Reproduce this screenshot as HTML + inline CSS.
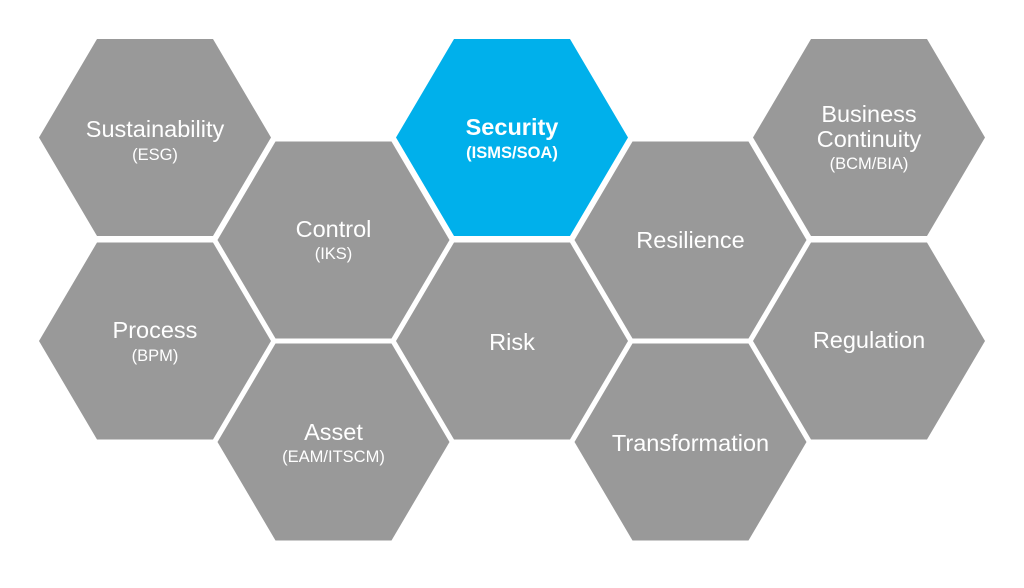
<!DOCTYPE html>
<html><head><style>
body{margin:0;width:1024px;height:583px;background:#fff;overflow:hidden}
</style></head><body>
<svg width="1024" height="583" xmlns="http://www.w3.org/2000/svg" font-family="Liberation Sans, sans-serif" fill="#fff" text-anchor="middle">
<defs><polygon id="h" points="-116,0 -58,-98.5 58,-98.5 116,0 58,98.5 -58,98.5"/></defs>
<g fill="#999">
<use href="#h" x="155" y="137.5"/>
<use href="#h" x="155" y="341"/>
<use href="#h" x="333.5" y="240"/>
<use href="#h" x="333.5" y="442"/>
<use href="#h" x="512" y="341"/>
<use href="#h" x="690.5" y="240"/>
<use href="#h" x="690.5" y="442"/>
<use href="#h" x="869" y="137.5"/>
<use href="#h" x="869" y="341"/>
</g>
<use href="#h" x="512" y="137.5" fill="#00b0eb"/>
<g font-size="23.5">
<text x="155" y="137">Sustainability</text>
<text x="155" y="338">Process</text>
<text x="333.5" y="237">Control</text>
<text x="333.5" y="440">Asset</text>
<text x="512" y="350">Risk</text>
<text x="690.5" y="248">Resilience</text>
<text x="690.5" y="451">Transformation</text>
<text x="869" y="122">Business</text>
<text x="869" y="147">Continuity</text>
<text x="869" y="348">Regulation</text>
<text x="512" y="135" font-weight="bold">Security</text>
</g>
<g font-size="16.5">
<text x="155" y="160">(ESG)</text>
<text x="155" y="361">(BPM)</text>
<text x="333.5" y="259">(IKS)</text>
<text x="333.5" y="462">(EAM/ITSCM)</text>
<text x="869" y="169">(BCM/BIA)</text>
<text x="512" y="158" font-weight="bold">(ISMS/SOA)</text>
</g>
</svg>
</body></html>
